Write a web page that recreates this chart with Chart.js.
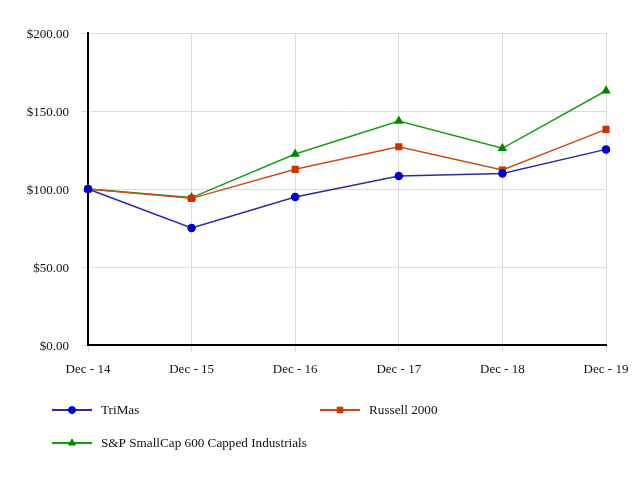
<!DOCTYPE html>
<html>
<head>
<meta charset="utf-8">
<script src="https://cdn.jsdelivr.net/npm/chart.js@4/dist/chart.umd.min.js"></script>
<style>
html,body{margin:0;padding:0;background:#fff;}
#wrap{width:640px;height:480px;position:relative;}
</style>
</head>
<body>
<div id="wrap"><canvas id="c" width="640" height="480"></canvas></div>
<script>
const categories = ["Dec - 14","Dec - 15","Dec - 16","Dec - 17","Dec - 18","Dec - 19"];
const trimas = [100.00, 75.00, 94.90, 108.30, 110.00, 125.40];
const russell = [100.00, 94.00, 112.60, 127.10, 112.20, 138.20];
const spIndustrials = [100.00, 94.50, 122.40, 143.60, 126.10, 163.00];
const seriesNames = ["TriMas","Russell 2000","S&P SmallCap 600 Capped Industrials"];
const yTicks = [0, 50, 100, 150, 200];

const FONT = "'Liberation Serif', 'Times New Roman', serif";

const legendPlugin = {
  id: 'customLegend',
  afterDraw(chart) {
    const ctx = chart.ctx;
    const pos = [[52, 410], [320, 410], [52, 443]];
    chart.data.datasets.forEach((ds, i) => {
      const [x, y] = pos[i];
      ctx.save();
      ctx.strokeStyle = ds.borderColor;
      ctx.lineWidth = 2;
      ctx.beginPath();
      ctx.moveTo(x, y);
      ctx.lineTo(x + 40, y);
      ctx.stroke();
      ctx.fillStyle = ds.pointBackgroundColor;
      ctx.strokeStyle = ds.pointBorderColor;
      ctx.lineWidth = 1;
      Chart.helpers.drawPoint(ctx, {
        pointStyle: ds.pointStyle,
        radius: ds.pointRadius,
        borderWidth: 1
      }, x + 20, y);
      ctx.fillStyle = '#111';
      ctx.font = "13.2px " + FONT;
      ctx.textBaseline = 'middle';
      ctx.textAlign = 'left';
      ctx.fillText(ds.label, x + 49, y + 1);
      ctx.restore();
    });
  }
};

new Chart(document.getElementById('c'), {
  type: 'line',
  data: {
    labels: categories,
    datasets: [
      { label: seriesNames[0], data: trimas, borderColor: '#2b2ba6', backgroundColor: '#0000cc',
        pointBackgroundColor: '#0000cc', pointBorderColor: '#0000cc', pointStyle: 'circle', pointRadius: 3.5, borderWidth: 1.5 },
      { label: seriesNames[1], data: russell, borderColor: '#cc4a22', backgroundColor: '#cc3300',
        pointBackgroundColor: '#cc3300', pointBorderColor: '#cc3300', pointStyle: 'rect', pointRadius: 4, borderWidth: 1.5 },
      { label: seriesNames[2], data: spIndustrials, borderColor: '#1a9a1a', backgroundColor: '#008800',
        pointBackgroundColor: '#008800', pointBorderColor: '#008800', pointStyle: 'triangle', pointRadius: 4, borderWidth: 1.5 }
    ]
  },
  options: {
    responsive: false,
    animation: false,
    devicePixelRatio: 1,
    layout: { padding: { top: 33, right: 34, bottom: 105, left: 0 } },
    plugins: { legend: { display: false }, tooltip: { enabled: false } },
    elements: { line: { tension: 0 } },
    scales: {
      x: {
        offset: false,
        grid: { color: '#dddddd', lineWidth: 1, tickLength: 7, drawTicks: true },
        border: { color: '#000', width: 2 },
        ticks: { color: '#111', font: { family: FONT, size: 13 }, padding: 10, maxRotation: 0, autoSkip: false },
        afterFit(s) { s.height = 30; }
      },
      y: {
        min: 0, max: 200,
        afterBuildTicks(s) { s.ticks = yTicks.map(v => ({ value: v })); },
        grid: { color: '#dddddd', lineWidth: 1, tickLength: 7, drawTicks: true },
        border: { color: '#000', width: 2 },
        ticks: { color: '#111', font: { family: FONT, size: 13 }, padding: 12, labelOffset: 2,
          callback: v => '$' + Number(v).toFixed(2) },
        afterFit(s) { s.width = 88; }
      }
    }
  },
  plugins: [legendPlugin]
});
</script>
</body>
</html>
